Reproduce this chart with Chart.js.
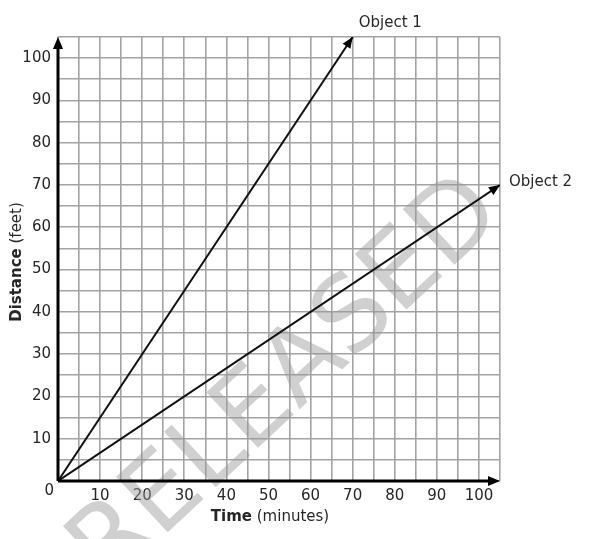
<!DOCTYPE html>
<html>
<head>
<meta charset="utf-8">
<script src="https://cdn.jsdelivr.net/npm/chart.js@4.4.1/dist/chart.umd.min.js"></script>
<style>
  html, body { margin: 0; padding: 0; background: #fff; }
  #wrap { width: 590px; height: 539px; }
</style>
</head>
<body>
<div id="wrap"><canvas id="distChart" width="590" height="539"></canvas></div>
<script>
// data
const seriesNames = ['Object 1', 'Object 2'];
const obj1Time = [0, 70];
const obj1Dist = [0, 105];
const obj2Time = [0, 105];
const obj2Dist = [0, 70];
const axisMax = 105;
const tickLabels = [10, 20, 30, 40, 50, 60, 70, 80, 90, 100];

const font = 'DejaVu Sans';
const textColor = '#262626';

function toPoints(xs, ys) {
    return xs.map((x, i) => ({ x: x, y: ys[i] }));
}

function arrowHead(c, x1, y1, x2, y2, size) {
    const ang = Math.atan2(y2 - y1, x2 - x1);
    c.beginPath();
    c.moveTo(x2, y2);
    c.lineTo(x2 - size * Math.cos(ang - 0.4), y2 - size * Math.sin(ang - 0.4));
    c.lineTo(x2 - size * Math.cos(ang + 0.4), y2 - size * Math.sin(ang + 0.4));
    c.closePath();
    c.fill();
}

// watermark, axes with arrows, arrowheads, labels
const extras = {
    id: 'extras',
    beforeDatasetsDraw(chart) {
        const c = chart.ctx;
        c.save();
        c.translate(288, 383);
        c.rotate(-43 * Math.PI / 180);
        c.font = '104px "DejaVu Sans"';
        c.fillStyle = 'rgba(150,150,150,0.45)';
        c.textAlign = 'center';
        c.textBaseline = 'middle';
        c.fillText('RELEASED', 0, 0);
        c.restore();
    },
    afterDatasetsDraw(chart) {
        const c = chart.ctx;
        const xs = chart.scales.x, ys = chart.scales.y;
        const x0 = xs.getPixelForValue(0), y0 = ys.getPixelForValue(0);
        const xEnd = xs.getPixelForValue(axisMax), yEnd = ys.getPixelForValue(axisMax);
        c.save();
        c.strokeStyle = '#000';
        c.fillStyle = '#000';
        c.lineWidth = 3;
        c.beginPath();
        c.moveTo(x0, y0); c.lineTo(xEnd - 6, y0);
        c.moveTo(x0, y0); c.lineTo(x0, yEnd + 6);
        c.stroke();
        arrowHead(c, x0, y0, xEnd, y0, 13);
        arrowHead(c, x0, y0, x0, yEnd, 13);

        // arrowheads on the lines
        chart.data.datasets.forEach((ds) => {
            const p = ds.data;
            const a = p[p.length - 2], b = p[p.length - 1];
            arrowHead(c, xs.getPixelForValue(a.x), ys.getPixelForValue(a.y),
                xs.getPixelForValue(b.x), ys.getPixelForValue(b.y), 12);
        });

        c.fillStyle = textColor;
        c.font = '15px "DejaVu Sans"';
        c.textAlign = 'left';
        c.textBaseline = 'middle';
        const e1 = chart.data.datasets[0].data[1];
        const e2 = chart.data.datasets[1].data[1];
        c.fillText(seriesNames[0], xs.getPixelForValue(e1.x) + 6, ys.getPixelForValue(e1.y) - 14);
        c.fillText(seriesNames[1], xs.getPixelForValue(e2.x) + 9, ys.getPixelForValue(e2.y) - 3);

        // origin label
        c.textAlign = 'right';
        c.fillText('0', x0 - 4, y0 + 10);

        // axis titles, first word bold
        c.textAlign = 'left';
        const bold = 'bold 15px "DejaVu Sans"', normal = '15px "DejaVu Sans"';
        c.font = bold; const w1 = c.measureText('Time').width;
        c.font = normal; const w2 = c.measureText(' (minutes)').width;
        let sx = 270 - (w1 + w2) / 2;
        c.font = bold; c.fillText('Time', sx, 517);
        c.font = normal; c.fillText(' (minutes)', sx + w1, 517);

        c.translate(17, 262);
        c.rotate(-Math.PI / 2);
        c.font = bold; const d1 = c.measureText('Distance').width;
        c.font = normal; const d2 = c.measureText(' (feet)').width;
        sx = -(d1 + d2) / 2;
        c.font = bold; c.fillText('Distance', sx, 0);
        c.font = normal; c.fillText(' (feet)', sx + d1, 0);
        c.restore();
    }
};

const tickCb = (v) => tickLabels.includes(v) ? String(v) : '';

new Chart(document.getElementById('distChart'), {
    type: 'line',
    data: {
        datasets: [
            { label: seriesNames[0], data: toPoints(obj1Time, obj1Dist) },
            { label: seriesNames[1], data: toPoints(obj2Time, obj2Dist) }
        ].map(d => Object.assign(d, {
            borderColor: '#111', borderWidth: 2, pointRadius: 0, fill: false, tension: 0
        }))
    },
    options: {
        responsive: false,
        animation: false,
        layout: { padding: { top: 37, right: 90, left: 0, bottom: 0 } },
        plugins: { legend: { display: false }, tooltip: { enabled: false } },
        scales: {
            x: {
                type: 'linear', min: 0, max: axisMax,
                afterFit: s => { s.height = 58; },
                border: { display: false },
                grid: { color: '#a3a3a3', lineWidth: 1.6, drawTicks: false },
                ticks: { stepSize: 5, autoSkip: false, maxRotation: 0, padding: 6,
                    color: textColor, font: { family: font, size: 15 }, callback: tickCb }
            },
            y: {
                type: 'linear', min: 0, max: axisMax,
                afterFit: s => { s.width = 58; },
                border: { display: false },
                grid: { color: '#a3a3a3', lineWidth: 1.6, drawTicks: false },
                ticks: { stepSize: 5, autoSkip: false, padding: 7,
                    color: textColor, font: { family: font, size: 15 }, callback: tickCb }
            }
        }
    },
    plugins: [extras]
});
</script>
</body>
</html>
